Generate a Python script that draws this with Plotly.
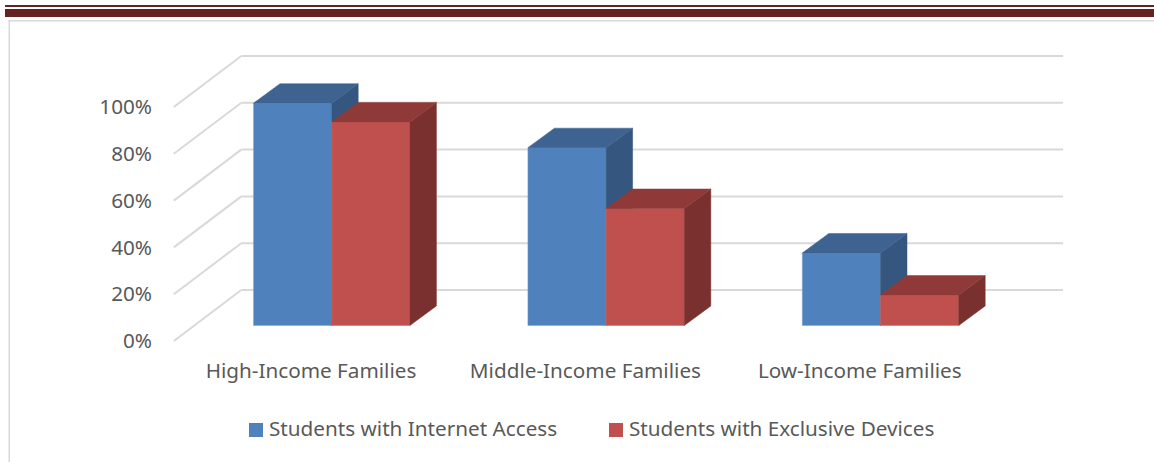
import plotly.graph_objects as go

categories = ["High-Income Families", "Middle-Income Families", "Low-Income Families"]
internet_access = [95, 76, 31]
exclusive_devices = [87, 50, 13]
y_ticks = [0, 20, 40, 60, 80, 100]
y_tick_labels = ["0%", "20%", "40%", "60%", "80%", "100%"]
series_names = ["Students with Internet Access", "Students with Exclusive Devices"]

WIDTH, HEIGHT = 1154, 462
FONT = "Noto Sans"
FONT_SIZE = 20.7
TEXT = "#595959"
GRID = "#d9d9d9"
FRAME = "#d9d9d9"
BANNER = "#642220"
BLUE, RED = "#4F81BD", "#C0504D"

# Plot rectangle in page pixels and the scale of both axes.
L, R, T, B = 168, 1072, 40, 345
PX_PER_CAT = 274.4
PX_PER_PCT = 2.34
X_ZERO = 311.0   # page x of the first category centre
Y_ZERO = 341.0   # page y of 0%

x_range = [(L - X_ZERO) / PX_PER_CAT, (R - X_ZERO) / PX_PER_CAT]
y_range = [(Y_ZERO - B) / PX_PER_PCT, (Y_ZERO - T) / PX_PER_PCT]

# Oblique projection, in axis units.
WALL_DX, WALL_DY = 67.5 / PX_PER_CAT, 51 / PX_PER_PCT
BAR_SHIFT_X, BAR_BASE = 20.7 / PX_PER_CAT, 15.5 / PX_PER_PCT
DEPTH_DX, DEPTH_DY = 26.5 / PX_PER_CAT, 19.5 / PX_PER_PCT
BAR_W = 78.2 / PX_PER_CAT
FLOOR_LEFT = -0.5
WALL_RIGHT = (1063 - X_ZERO) / PX_PER_CAT


def page_x(px):
    return (px - L) / (R - L)


def page_y(py):
    return (B - py) / (B - T)


def solid_face(xs, ys, color, xaxis, yaxis):
    return go.Scatter(x=xs, y=ys, mode="lines", fill="toself", fillcolor=color,
                      line=dict(color=color, width=0.5), xaxis=xaxis, yaxis=yaxis,
                      showlegend=False, hoverinfo="skip")


def add_series(fig, name, values, slot, front, edge, top, side, xaxis, yaxis):
    """Front faces as bars, then the top and right faces of each prism."""
    offset = BAR_SHIFT_X - BAR_W + slot * BAR_W
    fig.add_trace(go.Bar(name=name, x=list(range(len(values))), y=values, base=BAR_BASE,
                         width=BAR_W, offset=offset,
                         marker=dict(color=front, line=dict(color=edge, width=0.5)),
                         xaxis=xaxis, yaxis=yaxis, showlegend=False,
                         hovertemplate="%{y}%<extra></extra>"))
    for i, v in enumerate(values):
        xl = i + offset
        xr = xl + BAR_W
        t = BAR_BASE + v
        fig.add_trace(solid_face([xr, xr, xr + DEPTH_DX, xr + DEPTH_DX, xr],
                                 [BAR_BASE, t, t + DEPTH_DY, BAR_BASE + DEPTH_DY, BAR_BASE],
                                 side, xaxis, yaxis))
        fig.add_trace(solid_face([xl, xr, xr + DEPTH_DX, xl + DEPTH_DX, xl],
                                 [t, t, t + DEPTH_DY, t + DEPTH_DY, t],
                                 top, xaxis, yaxis))


fig = go.Figure()
add_series(fig, series_names[0], internet_access, 0, BLUE, "#7FA3CF", "#3E6391", "#34567F", "x", "y")
add_series(fig, series_names[1], exclusive_devices, 1, RED, "#CC6F6C", "#8F3A38", "#7A302E", "x2", "y2")

shapes = []
# Wall and side-wall gridlines behind the prisms.
for v in y_ticks:
    shapes.append(dict(type="line", xref="x", yref="y", layer="below",
                       x0=FLOOR_LEFT, y0=v, x1=FLOOR_LEFT + WALL_DX, y1=v + WALL_DY,
                       line=dict(color=GRID, width=2)))
    shapes.append(dict(type="line", xref="x", yref="y", layer="below",
                       x0=FLOOR_LEFT + WALL_DX, y0=v + WALL_DY, x1=WALL_RIGHT, y1=v + WALL_DY,
                       line=dict(color=GRID, width=2)))
# Page banner and chart frame.
for x0, y0, x1, y1, color in [
    (5, 5, WIDTH, 7, BANNER),
    (5, 9, WIDTH, 17, BANNER),
    (8.5, 20, WIDTH, 21.5, FRAME),
    (8.5, 20, 10, HEIGHT, FRAME),
]:
    shapes.append(dict(type="rect", xref="paper", yref="paper", layer="below",
                       x0=page_x(x0), x1=page_x(x1), y0=page_y(y0), y1=page_y(y1),
                       fillcolor=color, line=dict(width=0)))

# Legend row: square keys with their labels.
annotations = []
for name, color, key_left in zip(series_names, [BLUE, RED], [249, 609]):
    shapes.append(dict(type="rect", xref="paper", yref="paper", layer="above",
                       x0=page_x(key_left), x1=page_x(key_left + 14),
                       y0=page_y(423), y1=page_y(437), fillcolor=color, line=dict(width=0)))
    annotations.append(dict(text=name, xref="paper", yref="paper", showarrow=False,
                            x=page_x(key_left + 18), y=page_y(428), xanchor="left", yanchor="middle",
                            font=dict(family=FONT, size=FONT_SIZE, color=TEXT)))

hidden = dict(visible=False, fixedrange=True)
fig.update_layout(
    width=WIDTH, height=HEIGHT, autosize=False, showlegend=False,
    margin=dict(l=L, r=WIDTH - R, t=T, b=HEIGHT - B, pad=0),
    paper_bgcolor="white", plot_bgcolor="rgba(0,0,0,0)",
    font=dict(family=FONT, size=FONT_SIZE, color=TEXT),
    barmode="overlay", shapes=shapes, annotations=annotations,
    xaxis=dict(range=x_range, tickmode="array", tickvals=[0, 1, 2], ticktext=categories,
               showgrid=False, zeroline=False, showline=False, ticks="",
               ticklabelstandoff=11, tickfont=dict(family=FONT, size=FONT_SIZE, color=TEXT)),
    yaxis=dict(range=y_range, tickmode="array", tickvals=y_ticks, ticktext=y_tick_labels,
               showgrid=False, zeroline=False, showline=False, ticks="",
               ticklabelstandoff=15, tickfont=dict(family=FONT, size=FONT_SIZE, color=TEXT)),
    xaxis2=dict(range=x_range, overlaying="x", **hidden),
    yaxis2=dict(range=y_range, overlaying="y", **hidden),
)

fig.write_html("out.html", config={"displayModeBar": False})
